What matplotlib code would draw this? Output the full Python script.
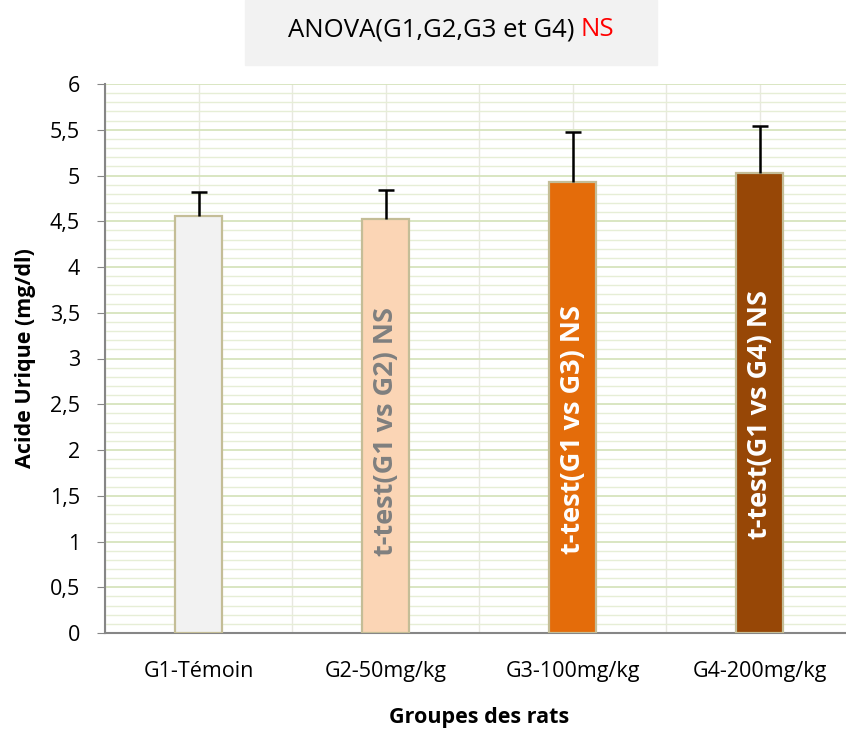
import matplotlib
matplotlib.use("Agg")
import matplotlib.pyplot as plt
import numpy as np
from matplotlib.ticker import MultipleLocator, FuncFormatter

plt.rcParams['font.family'] = ['Open Sans', 'DejaVu Sans']

groups = ["G1-Témoin", "G2-50mg/kg", "G3-100mg/kg", "G4-200mg/kg"]
means = [4.56, 4.52, 4.93, 5.03]
errors = [0.26, 0.32, 0.55, 0.51]
bar_colors = ["#f2f2f2", "#fbd5b5", "#e46c0a", "#974706"]
inner_labels = ["", "t-test(G1 vs G2) NS", "t-test(G1 vs G3) NS", "t-test(G1 vs G4) NS"]
inner_colors = ["#7f7f7f", "#7f7f7f", "white", "white"]
inner_y = [2.2, 2.2, 2.22, 2.39]

fig = plt.figure(figsize=(8.46, 7.34), dpi=100)
W, H = 846, 734
ax = fig.add_axes([105 / W, (H - 633) / H, (853 - 105) / W, (633 - 84) / H])

x = np.arange(len(groups))
ax.bar(x, means, width=0.25, color=bar_colors, edgecolor="#c4bd97",
       linewidth=1.6, zorder=3)
eb = ax.errorbar(x, means, yerr=[np.zeros(len(errors)), errors], fmt="none",
                 ecolor="black", elinewidth=1.8, capsize=6, capthick=1.8, zorder=4)
# keep only the upper caps
eb[1][0].set_visible(False)

for xi, txt, c, yy in zip(x, inner_labels, inner_colors, inner_y):
    if txt:
        ax.text(xi, yy, txt, rotation=90, ha="center", va="center",
                color=c, fontsize=19.5, fontweight="bold", zorder=5)

ax.set_xlim(-0.5, 3.5)
ax.set_ylim(0, 6)
ax.yaxis.set_major_locator(MultipleLocator(0.5))
ax.yaxis.set_minor_locator(MultipleLocator(0.1))
ax.yaxis.set_major_formatter(FuncFormatter(lambda v, p: f"{v:g}".replace(".", ",")))
ax.set_xticks(x)
ax.set_xticklabels(groups, fontsize=15.5)
ax.tick_params(axis="x", length=0, pad=20)
ax.tick_params(axis="y", which="major", length=6, color="#868686", labelsize=15.5, pad=12)
ax.tick_params(axis="y", which="minor", length=0)

# background grid
ax.grid(axis="y", which="major", color="#d7e4bd", linewidth=1.3, zorder=0)
ax.grid(axis="y", which="minor", color="#e6eed6", linewidth=1.0, zorder=0)
for gx in np.arange(-0.5, 3.6, 0.5):
    ax.axvline(gx, color="#e8e8e0", linewidth=1.0, zorder=0)
ax.set_axisbelow(True)

for s in ["top", "right"]:
    ax.spines[s].set_visible(False)
ax.spines["left"].set_color("#868686")
ax.spines["bottom"].set_color("#868686")
ax.spines["left"].set_linewidth(1.5)
ax.spines["bottom"].set_linewidth(1.5)

ax.set_ylabel("Acide Urique (mg/dl)", fontsize=15.5, fontweight="bold", labelpad=10)
ax.set_xlabel("Groupes des rats", fontsize=15.5, fontweight="bold", labelpad=18)

# title box
box_l, box_r = 245, 657
fig.patches.append(plt.Rectangle((box_l / W, 1 - 65 / H), (box_r - box_l) / W, 65 / H,
                                 transform=fig.transFigure, color="#f2f2f2", zorder=0))
ty = 1 - 30 / H
t1 = fig.text(0.5, ty, "ANOVA(G1,G2,G3 et G4) ", fontsize=18.5, ha="left", va="center")
t2 = fig.text(0.5, ty, "NS", fontsize=18.5, color="red", ha="left", va="center")
fig.canvas.draw()
r = fig.canvas.get_renderer()
w1 = t1.get_window_extent(renderer=r).width
w2 = t2.get_window_extent(renderer=r).width
left = (box_l + box_r) / 2 - (w1 + w2) / 2
t1.set_position((left / W, ty))
t2.set_position(((left + w1) / W, ty))

fig.savefig("out.png", dpi=100)
